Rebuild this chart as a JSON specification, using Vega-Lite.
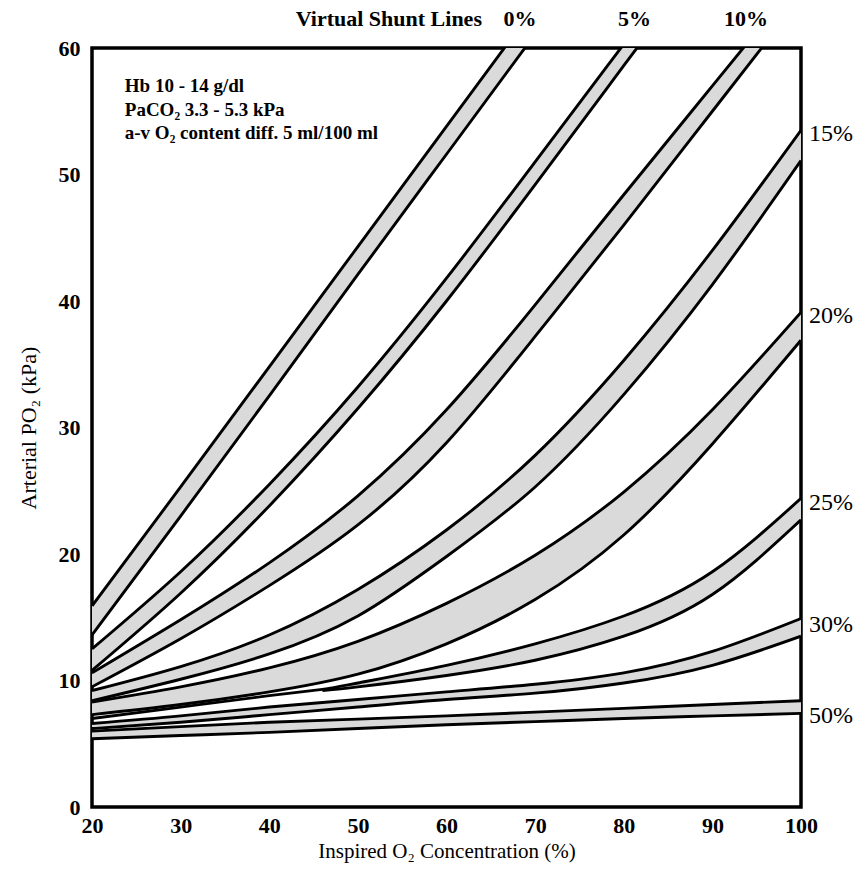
{
  "$schema": "https://vega.github.io/schema/vega-lite/v6.json",
  "autosize": {"type": "none"},
  "padding": {"left": 92, "top": 48, "right": 64, "bottom": 64},
  "width": 709,
  "height": 759,
  "background": "white",
  "config": {
    "view": {"stroke": "black", "strokeWidth": 3.5},
    "font": "Liberation Serif",
    "text": {"font": "Liberation Serif", "color": "black"}
  },
  "datasets": {
    "bands": [
      {"band": "0%", "x": 20, "hi": 15.9, "lo": 13.6},
      {"band": "0%", "x": 30, "hi": 25.3, "lo": 23.0},
      {"band": "0%", "x": 40, "hi": 34.8, "lo": 32.5},
      {"band": "0%", "x": 50, "hi": 44.3, "lo": 42.1},
      {"band": "0%", "x": 60, "hi": 53.8, "lo": 51.6},
      {"band": "0%", "x": 70, "hi": 63.3, "lo": 61.1},
      {"band": "5%", "x": 20, "hi": 12.5, "lo": 10.8},
      {"band": "5%", "x": 30, "hi": 18.6, "lo": 16.9},
      {"band": "5%", "x": 40, "hi": 25.5, "lo": 23.8},
      {"band": "5%", "x": 50, "hi": 33.2, "lo": 31.5},
      {"band": "5%", "x": 60, "hi": 41.8, "lo": 40.0},
      {"band": "5%", "x": 70, "hi": 51.0, "lo": 49.2},
      {"band": "5%", "x": 80, "hi": 60.3, "lo": 58.6},
      {"band": "5%", "x": 90, "hi": 69.6, "lo": 68.0},
      {"band": "10%", "x": 20, "hi": 10.6, "lo": 9.5},
      {"band": "10%", "x": 30, "hi": 14.8, "lo": 13.3},
      {"band": "10%", "x": 40, "hi": 19.3, "lo": 17.5},
      {"band": "10%", "x": 50, "hi": 24.6, "lo": 22.3},
      {"band": "10%", "x": 60, "hi": 31.4, "lo": 28.8},
      {"band": "10%", "x": 70, "hi": 39.7, "lo": 37.2},
      {"band": "10%", "x": 80, "hi": 48.4, "lo": 46.0},
      {"band": "10%", "x": 90, "hi": 57.0, "lo": 55.0},
      {"band": "10%", "x": 100, "hi": 65.6, "lo": 64.0},
      {"band": "15%", "x": 20, "hi": 9.2, "lo": 8.4},
      {"band": "15%", "x": 30, "hi": 11.1, "lo": 10.1},
      {"band": "15%", "x": 40, "hi": 13.6, "lo": 12.1},
      {"band": "15%", "x": 50, "hi": 17.2, "lo": 15.1},
      {"band": "15%", "x": 60, "hi": 21.9, "lo": 19.8},
      {"band": "15%", "x": 70, "hi": 27.8, "lo": 25.3},
      {"band": "15%", "x": 80, "hi": 35.3, "lo": 32.6},
      {"band": "15%", "x": 90, "hi": 44.0, "lo": 41.3},
      {"band": "15%", "x": 100, "hi": 53.5, "lo": 51.1},
      {"band": "20%", "x": 20, "hi": 8.3, "lo": 7.3},
      {"band": "20%", "x": 30, "hi": 9.5, "lo": 8.1},
      {"band": "20%", "x": 40, "hi": 11.0, "lo": 9.1},
      {"band": "20%", "x": 50, "hi": 13.1, "lo": 10.5},
      {"band": "20%", "x": 60, "hi": 16.1, "lo": 12.9},
      {"band": "20%", "x": 70, "hi": 19.9, "lo": 16.4},
      {"band": "20%", "x": 80, "hi": 24.9, "lo": 21.5},
      {"band": "20%", "x": 90, "hi": 31.4, "lo": 28.7},
      {"band": "20%", "x": 100, "hi": 39.1, "lo": 36.9},
      {"band": "25%", "x": 20, "hi": 7.0, "lo": null},
      {"band": "25%", "x": 30, "hi": 7.9, "lo": null},
      {"band": "25%", "x": 40, "hi": 8.8, "lo": null},
      {"band": "25%", "x": 46, "hi": 9.3, "lo": 9.2},
      {"band": "25%", "x": 50, "hi": 9.8, "lo": 9.5},
      {"band": "25%", "x": 60, "hi": 11.2, "lo": 10.4},
      {"band": "25%", "x": 70, "hi": 12.9, "lo": 11.6},
      {"band": "25%", "x": 80, "hi": 15.1, "lo": 13.5},
      {"band": "25%", "x": 90, "hi": 18.6, "lo": 16.8},
      {"band": "25%", "x": 100, "hi": 24.4, "lo": 22.7},
      {"band": "30%", "x": 20, "hi": 6.6, "lo": 6.2},
      {"band": "30%", "x": 30, "hi": 7.2, "lo": 6.7},
      {"band": "30%", "x": 40, "hi": 7.9, "lo": 7.3},
      {"band": "30%", "x": 50, "hi": 8.5, "lo": 7.9},
      {"band": "30%", "x": 60, "hi": 9.1, "lo": 8.5},
      {"band": "30%", "x": 70, "hi": 9.7, "lo": 9.0},
      {"band": "30%", "x": 80, "hi": 10.6, "lo": 9.8},
      {"band": "30%", "x": 90, "hi": 12.3, "lo": 11.2},
      {"band": "30%", "x": 100, "hi": 14.9, "lo": 13.5},
      {"band": "50%", "x": 20, "hi": 6.0, "lo": 5.4},
      {"band": "50%", "x": 30, "hi": 6.35, "lo": 5.65},
      {"band": "50%", "x": 40, "hi": 6.7, "lo": 5.9},
      {"band": "50%", "x": 50, "hi": 6.95, "lo": 6.2},
      {"band": "50%", "x": 60, "hi": 7.2, "lo": 6.5},
      {"band": "50%", "x": 70, "hi": 7.5, "lo": 6.75},
      {"band": "50%", "x": 80, "hi": 7.8, "lo": 7.0},
      {"band": "50%", "x": 90, "hi": 8.1, "lo": 7.2},
      {"band": "50%", "x": 100, "hi": 8.4, "lo": 7.4}
    ]
  },
  "data": {"name": "bands"},
  "layer": [
    {
      "transform": [{"filter": "datum.lo != null"}],
      "mark": {"type": "area", "clip": true, "interpolate": "natural", "fill": "#dadada", "stroke": null},
      "encoding": {
        "x": {
          "field": "x", "type": "quantitative",
          "scale": {"domain": [20, 100], "nice": false, "zero": false},
          "axis": {
            "title": "Inspired O₂ Concentration (%)",
            "values": [20, 30, 40, 50, 60, 70, 80, 90, 100],
            "grid": false, "ticks": false, "domain": false, "labelFlush": false,
            "labelFont": "Liberation Serif", "labelFontWeight": "bold", "labelFontSize": 22,
            "labelColor": "black", "labelPadding": 8,
            "titleFont": "Liberation Serif", "titleFontWeight": "normal", "titleFontSize": 21,
            "titleColor": "black", "titlePadding": 4
          }
        },
        "y": {
          "field": "hi", "type": "quantitative",
          "scale": {"domain": [0, 60], "nice": false},
          "axis": {
            "title": "Arterial PO₂ (kPa)",
            "values": [0, 10, 20, 30, 40, 50, 60],
            "grid": false, "ticks": false, "domain": false, "labelFlush": false,
            "labelFont": "Liberation Serif", "labelFontWeight": "bold", "labelFontSize": 22,
            "labelColor": "black", "labelPadding": 12,
            "titleFont": "Liberation Serif", "titleFontWeight": "normal", "titleFontSize": 22,
            "titleColor": "black", "titlePadding": 18
          }
        },
        "y2": {"field": "lo"},
        "detail": {"field": "band"}
      }
    },
    {
      "transform": [
        {"fold": ["hi", "lo"], "as": ["side", "val"]},
        {"filter": "datum.val != null"}
      ],
      "mark": {"type": "line", "clip": true, "interpolate": "natural", "color": "black", "strokeWidth": 2.9},
      "encoding": {
        "x": {"field": "x", "type": "quantitative"},
        "y": {"field": "val", "type": "quantitative"},
        "detail": [{"field": "band"}, {"field": "side"}]
      }
    },
    {
      "data": {"values": [{"t": "Virtual Shunt Lines", "x": 64}]},
      "mark": {"type": "text", "align": "right", "baseline": "middle", "dy": -29, "fontSize": 22, "fontWeight": "bold"},
      "encoding": {
        "x": {"field": "x", "type": "quantitative"},
        "y": {"datum": 60},
        "text": {"field": "t"}
      }
    },
    {
      "data": {"values": [{"t": "0%", "x": 68.3}, {"t": "5%", "x": 81.2}, {"t": "10%", "x": 93.8}]},
      "mark": {"type": "text", "align": "center", "baseline": "middle", "dy": -29, "fontSize": 22, "fontWeight": "bold"},
      "encoding": {
        "x": {"field": "x", "type": "quantitative"},
        "y": {"datum": 60},
        "text": {"field": "t"}
      }
    },
    {
      "data": {"values": [
        {"t": "15%", "y": 53.2},
        {"t": "20%", "y": 38.8},
        {"t": "25%", "y": 24.0},
        {"t": "30%", "y": 14.4},
        {"t": "50%", "y": 7.2}
      ]},
      "mark": {"type": "text", "align": "left", "baseline": "middle", "dx": 8, "fontSize": 24},
      "encoding": {
        "x": {"datum": 100},
        "y": {"field": "y", "type": "quantitative"},
        "text": {"field": "t"}
      }
    },
    {
      "data": {"values": [
        {"t": "Hb 10 - 14 g/dl", "y": 57.0},
        {"t": "PaCO₂ 3.3 - 5.3 kPa", "y": 55.1},
        {"t": "a-v O₂ content diff. 5 ml/100 ml", "y": 53.3}
      ]},
      "mark": {"type": "text", "align": "left", "baseline": "middle", "fontSize": 19, "fontWeight": "bold"},
      "encoding": {
        "x": {"datum": 23.7},
        "y": {"field": "y", "type": "quantitative"},
        "text": {"field": "t"}
      }
    }
  ]
}
